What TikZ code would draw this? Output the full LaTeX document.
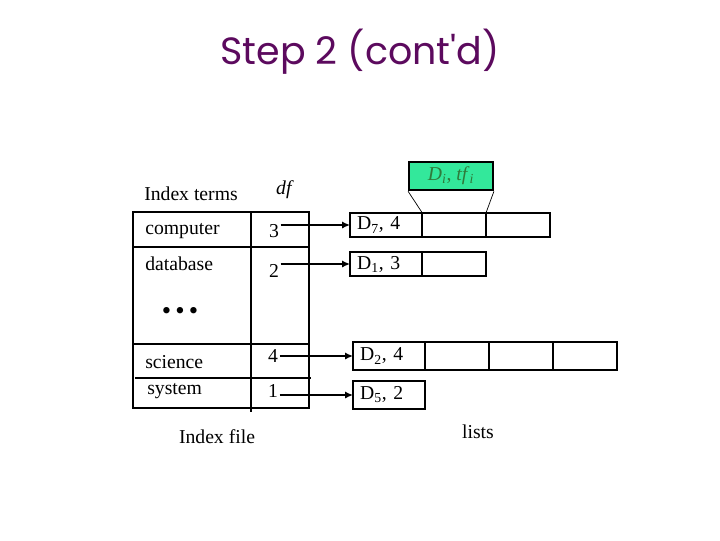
\documentclass[tikz,border=0pt]{standalone}
\usepackage{fontspec}
\setmainfont{Liberation Serif}
\newfontfamily\titlefont{Poppins}
\usetikzlibrary{arrows.meta,positioning}
\definecolor{titlepurple}{HTML}{5C0A5E}
\definecolor{cellgreen}{HTML}{33E89B}
\definecolor{textgreen}{HTML}{2F7A3A}
\tikzset{
  grid/.style       = {line width=1.3pt},
  cell/.style       = {draw, line width=1.3pt, minimum height=0.62cm, minimum width=1.6cm,
                       inner sep=0pt, outer sep=0pt},
  firstcell/.style  = {cell, inner xsep=5pt, text width=1.45cm, align=left},
  ptr/.style        = {-{Latex[length=2mm,width=1.8mm]}, line width=1pt},
  thin/.style       = {line width=0.5pt},
  every node/.style = {font=\fontsize{14}{16}\selectfont},
  term/.style       = {anchor=west, inner sep=0pt},
  num/.style        = {inner sep=1pt},
  node distance     = 0pt,
}
\begin{document}
\begin{tikzpicture}[x=0.025cm,y=-0.025cm]
  \useasboundingbox (0,0) rectangle (720,540);
  \node[font=\titlefont\fontsize{27}{32}\selectfont, text=titlepurple] (title) at (360,52) {Step 2 (cont'd)};
  % index file
  \draw[grid] (133,212) rectangle (309,408);
  \draw[grid] (251,212) -- (251,412);
  \draw[grid] (133,247) -- (309,247);
  \draw[grid] (133,344) -- (309,344);
  \draw[grid] (135,378) -- (311,378);
  \node (hterms) at (191,194) {Index terms};
  \node (hdf) at (285,190) {\textit{df}};
  \node[term] (tcomp) at (145,231) {computer};
  \node[term] (tdata) at (145,264) {database};
  \node (tdots) at (180,313) {\fontsize{19}{19}\selectfont\textbullet\hspace{3pt}\textbullet\hspace{3pt}\textbullet};
  \node[term] (tsci) at (145,362) {science};
  \node[term] (tsys) at (147,391) {system};
  \node[num] (n3) at (274,231) {3};
  \node[num] (n2) at (274,271) {2};
  \node[num] (n4) at (273,356) {4};
  \node[num] (n1) at (273,391) {1};
  \node (ifile) at (217,437) {Index file};
  % posting lists
  \node[firstcell, anchor=west] (la1) at (350,225) {D\textsubscript{7}, 4};
  \node[cell, right=of la1] (la2) {};
  \node[cell, right=of la2] (la3) {};
  \node[firstcell, anchor=west] (lb1) at (350,264) {D\textsubscript{1}, 3};
  \node[cell, right=of lb1] (lb2) {};
  \node[firstcell, minimum height=0.7cm, anchor=west] (lc1) at (353,356) {D\textsubscript{2}, 4};
  \node[cell, minimum height=0.7cm, right=of lc1] (lc2) {};
  \node[cell, minimum height=0.7cm, right=of lc2] (lc3) {};
  \node[cell, minimum height=0.7cm, right=of lc3] (lc4) {};
  \node[firstcell, minimum height=0.7cm, anchor=west] (ld1) at (353,395) {D\textsubscript{5}, 2};
  \node (lists) at (478,432) {lists};
  % entry detail
  \node[draw, line width=1.3pt, fill=cellgreen, text=textgreen, minimum width=2.1cm,
        minimum height=0.72cm, inner sep=0pt] (entry) at (451,176)
        {\textit{D}\textsubscript{\textit{i}}, \textit{tf}\textsubscript{\textit{i}}};
  \draw[thin] (entry.south west) -- (la2.north west);
  \draw[thin] (entry.south east) -- (la3.north west);
  % pointers
  \draw[ptr] (n3.east |- la1) -- (la1.west);
  \draw[ptr] (n2.east |- lb1) -- (lb1.west);
  \draw[ptr] (n4.east |- lc1) -- (lc1.west);
  \draw[ptr] (n1.east |- ld1) -- (ld1.west);
\end{tikzpicture}
\end{document}
